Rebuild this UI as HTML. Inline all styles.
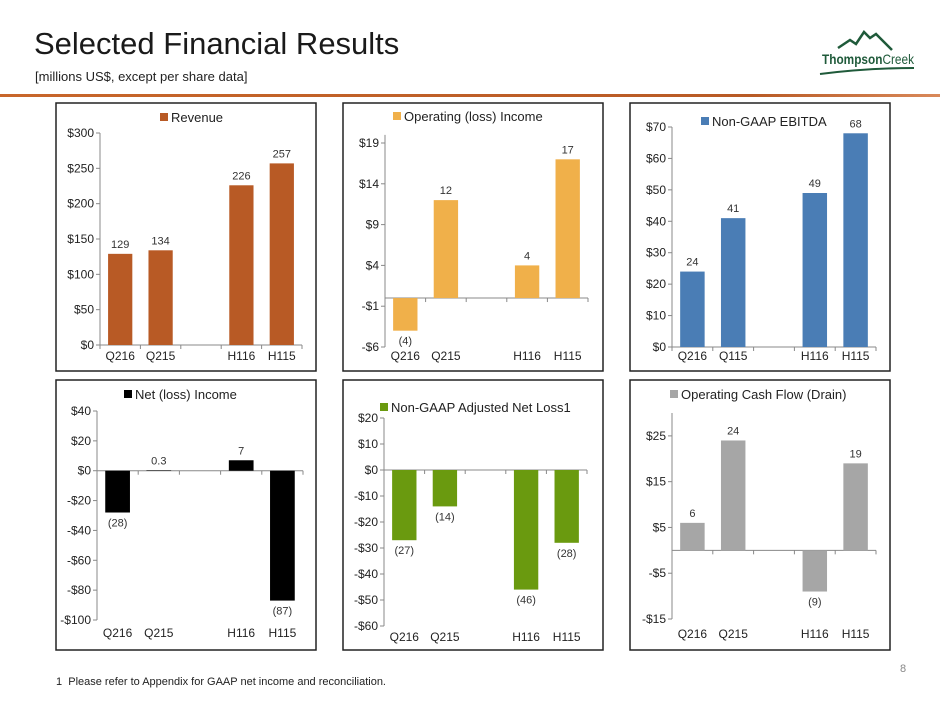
<!DOCTYPE html>
<html><head><meta charset="utf-8"><style>
body{margin:0;width:940px;height:705px;background:#fff;font-family:"Liberation Sans",sans-serif;position:relative;overflow:hidden}
.t{position:absolute}
</style></head><body>
<div class="t" style="left:34px;top:26px;font-size:31px;color:#1a1a1a">Selected Financial Results</div>
<div class="t" style="left:35px;top:69px;font-size:13px;color:#222">[millions US$, except per share data]</div>
<div class="t" style="left:0;top:94px;width:940px;height:3px;background:linear-gradient(90deg,#c8662a,#b85a25 80%,#d9895a)"></div>
<svg class="t" style="left:818px;top:22px" width="115" height="55" viewBox="0 0 115 55">
<polyline points="20,26 32,18 38,22 46,10 52,16 58,12 64,18 74,28" fill="none" stroke="#1f5a3a" stroke-width="2.5"/>
<text x="4" y="42" font-size="14" font-weight="bold" fill="#1f5a3a" textLength="92" lengthAdjust="spacingAndGlyphs">Thompson<tspan font-weight="normal">Creek</tspan></text>
<path d="M2,52 Q50,46 96,46" stroke="#1f5a3a" stroke-width="2" fill="none"/>
</svg>
<div class="t" style="left:56px;top:676px;font-size:11px;color:#222">1&nbsp; Please refer to Appendix for GAAP net income and reconciliation.</div>
<div class="t" style="left:900px;top:663px;font-size:11px;color:#888">8</div>
<svg id="ch" class="t" style="left:0;top:0" width="940" height="705"></svg>
<script>
const categories=["Q216","Q215","","H116","H115"];
const categoriesEbitda=["Q216","Q115","","H116","H115"];
const revenueValues=[129,134,null,226,257];
const opIncomeValues=[-4,12,null,4,17];
const ebitdaValues=[24,41,null,49,68];
const netIncomeValues=[-28,0.3,null,7,-87];
const adjNetValues=[-27,-14,null,-46,-28];
const cashFlowValues=[6,24,null,-9,19];
const revenueLabels=["129","134","","226","257"];
const opIncomeLabels=["(4)","12","","4","17"];
const ebitdaLabels=["24","41","","49","68"];
const netIncomeLabels=["(28)","0.3","","7","(87)"];
const adjNetLabels=["(27)","(14)","","(46)","(28)"];
const cashFlowLabels=["6","24","","(9)","19"];
const revenueTicks=[0,50,100,150,200,250,300];
const opTicks=[-6,-1,4,9,14,19];
const ebitdaTicks=[0,10,20,30,40,50,60,70];
const netTicks=[-100,-80,-60,-40,-20,0,20,40];
const adjTicks=[-60,-50,-40,-30,-20,-10,0,10,20];
const cashTicks=[-15,-5,5,15,25];
const NS="http://www.w3.org/2000/svg";
const svg=document.getElementById('ch');
function mk(t,a,p){const e=document.createElementNS(NS,t);for(const k in a)e.setAttribute(k,a[k]);(p||svg).appendChild(e);return e;}
function fmt(v){return (v<0?"-$":"$")+Math.abs(v);}
function chart(c){
  const g=mk('g',{});
  
  
  const box=mk('rect',{x:c.bx,y:c.by,width:c.bw,height:c.bh,fill:'#fff',stroke:'#222','stroke-width':1.5},g);
  
  
  const y=v=>c.y0+(v-c.min)*(c.y1-c.y0)/(c.max-c.min);
  const sw=(c.x1-c.x0)/5;
  const top=y(c.axisTop!==undefined?c.axisTop:c.max);
  mk('line',{x1:c.x0,y1:y(c.min),x2:c.x0,y2:top,stroke:'#888'},g);
  c.ticks.forEach(t=>{
    mk('line',{x1:c.x0-4,y1:y(t),x2:c.x0,y2:y(t),stroke:'#888'},g);
    const tx=mk('text',{x:c.x0-6,y:y(t)+4,'text-anchor':'end','font-size':12,fill:'#222'},g);
    tx.textContent=fmt(t);
    
    
  });
  const zy=y(Math.max(c.min,0));
  mk('line',{x1:c.x0,y1:zy,x2:c.x1,y2:zy,stroke:'#888'},g);
  for(let i=0;i<=5;i++)mk('line',{x1:c.x0+i*sw,y1:zy,x2:c.x0+i*sw,y2:zy+4,stroke:'#888'},g);
  c.cats.forEach((cat,i)=>{
    const cx=c.x0+(i+0.5)*sw;
    if(cat){const tl=mk('text',{x:cx,y:c.ly,'text-anchor':'middle','font-size':12,fill:'#222'},g);tl.textContent=cat;
      
      }
    const v=c.vals[i];if(v===null)return;
    const bw=sw*0.6;const yv=y(v);
    const r=mk('rect',{x:cx-bw/2,y:Math.min(yv,zy),width:bw,height:Math.abs(zy-yv),fill:c.color},g);
    
    
    const vl=mk('text',{x:cx,y:v<0?yv+14:yv-6,'text-anchor':'middle','font-size':11,fill:'#333'},g);
    vl.textContent=c.labels[i];
    
    
  });
  const lg=mk('g',{},g);
  
  
  mk('rect',{x:c.lx,y:c.lgy-9,width:8,height:8,fill:c.color},lg);
  const lt=mk('text',{x:c.lx+11,y:c.lgy,'font-size':13,fill:'#222'},lg);lt.textContent=c.title;
}
chart({name:'revenue-chart',bx:56,by:103,bw:260,bh:268,x0:100,x1:302,y0:345,y1:133,min:0,max:300,ticks:revenueTicks,cats:categories,vals:revenueValues,labels:revenueLabels,color:'#b85a25',ly:360,lx:160,lgy:122,title:'Revenue'});
chart({name:'operating-income-chart',bx:343,by:103,bw:260,bh:268,x0:385,x1:588,y0:347,y1:143,min:-6,max:19,axisTop:20,ticks:opTicks,cats:categories,vals:opIncomeValues,labels:opIncomeLabels,color:'#f0b04a',ly:360,lx:393,lgy:121,title:'Operating (loss) Income'});
chart({name:'ebitda-chart',bx:630,by:103,bw:260,bh:268,x0:672,x1:876,y0:347,y1:127,min:0,max:70,ticks:ebitdaTicks,cats:categoriesEbitda,vals:ebitdaValues,labels:ebitdaLabels,color:'#4a7db5',ly:360,lx:701,lgy:126,title:'Non-GAAP EBITDA'});
chart({name:'net-income-chart',bx:56,by:380,bw:260,bh:270,x0:97,x1:303,y0:620,y1:411,min:-100,max:40,ticks:netTicks,cats:categories,vals:netIncomeValues,labels:netIncomeLabels,color:'#000',ly:637,lx:124,lgy:399,title:'Net (loss) Income'});
chart({name:'adjusted-net-loss-chart',bx:343,by:380,bw:260,bh:270,x0:384,x1:587,y0:626,y1:418,min:-60,max:20,ticks:adjTicks,cats:categories,vals:adjNetValues,labels:adjNetLabels,color:'#6a9a0f',ly:641,lx:380,lgy:412,title:'Non-GAAP Adjusted Net Loss1'});
chart({name:'cash-flow-chart',bx:630,by:380,bw:260,bh:270,x0:672,x1:876,y0:619,y1:413,min:-15,max:30,ticks:cashTicks,cats:categories,vals:cashFlowValues,labels:cashFlowLabels,color:'#a6a6a6',ly:638,lx:670,lgy:399,title:'Operating Cash Flow (Drain)'});
</script>
</body></html>
